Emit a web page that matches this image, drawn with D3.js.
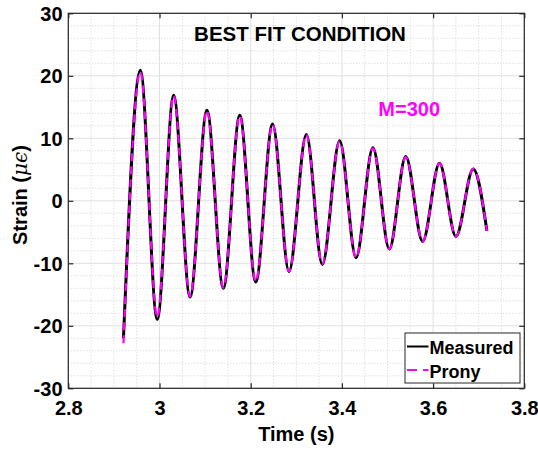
<!DOCTYPE html>
<html>
<head>
<meta charset="utf-8">
<script src="https://cdn.jsdelivr.net/npm/d3@7"></script>
<style>
    body { margin: 0; background: #fff; }
    text { font-family: "Liberation Sans", Arial, Helvetica, sans-serif; font-weight: bold; fill: #000; }
</style>
</head>
<body>
<script>
// extrema of the signal (time in s, strain in microstrain)
const time = [2.921, 2.958, 2.995, 3.031, 3.067, 3.104, 3.140, 3.176, 3.211, 3.248, 3.284, 3.322,
    3.357, 3.395, 3.431, 3.468, 3.504, 3.540, 3.577, 3.614, 3.650, 3.688, 3.718]
const measured = [-22.0, 20.9, -19.0, 16.9, -15.4, 14.5, -14.0, 13.7, -13.0, 12.3, -11.3, 10.6,
    -10.2, 9.6, -9.1, 8.5, -7.7, 7.1, -6.5, 6.0, -5.7, 5.1, -4.8]
const prony = [-22.8, 20.6, -18.6, 16.8, -15.3, 14.4, -13.9, 13.6, -12.9, 12.2, -11.3, 10.6,
    -10.1, 9.5, -9.1, 8.4, -7.7, 7.0, -6.5, 6.0, -5.7, 5.1, -4.8]

const xTicks = [2.8, 3.0, 3.2, 3.4, 3.6, 3.8]
const yTicks = [-30, -20, -10, 0, 10, 20, 30]
const seriesNames = ['Measured', 'Prony']

const W = 538, H = 450
const margin = { left: 68.3, top: 13.3, right: 13.7, bottom: 61.7 }
const iw = W - margin.left - margin.right, ih = H - margin.top - margin.bottom

const svg = d3.select('body').append('svg')
    .attr('width', W)
    .attr('height', H)

const g = svg.append('g').attr('transform', 'translate(' + margin.left + ',' + margin.top + ')')

const x = d3.scaleLinear().domain([2.8, 3.8]).range([0, iw])
const y = d3.scaleLinear().domain([-30, 30]).range([ih, 0])

// plain hyphen minus like matlab, not the unicode one d3 uses
const fmt = d => String(+d.toFixed(2))

// minor grid (dotted)
const xMinor = d3.range(2.8, 3.8001, 0.05).filter(v => !xTicks.some(t => Math.abs(t - v) < 1e-6))
const yMinor = d3.range(-30, 30.001, 2).filter(v => v % 10 !== 0)

g.selectAll('.xminor').data(xMinor).enter().append('line')
    .attr('x1', d => x(d)).attr('x2', d => x(d)).attr('y1', 0).attr('y2', ih)
    .attr('stroke', '#d2d2d2').attr('stroke-width', 1).attr('stroke-dasharray', '1,2')
g.selectAll('.yminor').data(yMinor).enter().append('line')
    .attr('y1', d => y(d)).attr('y2', d => y(d)).attr('x1', 0).attr('x2', iw)
    .attr('stroke', '#d2d2d2').attr('stroke-width', 1).attr('stroke-dasharray', '1,2')

// major grid
g.selectAll('.xmajor').data(xTicks).enter().append('line')
    .attr('x1', d => x(d)).attr('x2', d => x(d)).attr('y1', 0).attr('y2', ih)
    .attr('stroke', '#e0e0e0').attr('stroke-width', 1)
g.selectAll('.ymajor').data(yTicks).enter().append('line')
    .attr('y1', d => y(d)).attr('y2', d => y(d)).attr('x1', 0).attr('x2', iw)
    .attr('stroke', '#e0e0e0').attr('stroke-width', 1)

const line = vals => d3.line()
    .x((d, i) => x(time[i]))
    .y(d => y(d))
    .curve(d3.curveMonotoneX)(vals)

g.append('path').attr('d', line(measured))
    .attr('fill', 'none').attr('stroke', '#000').attr('stroke-width', 3)
g.append('path').attr('d', line(prony))
    .attr('fill', 'none').attr('stroke', '#ff00ff').attr('stroke-width', 2.2)
    .attr('stroke-dasharray', '8,5')

// box and inward ticks on all four sides
g.append('rect').attr('width', iw).attr('height', ih)
    .attr('fill', 'none').attr('stroke', '#262626').attr('stroke-width', 1.2)

const tl = 5
const axisStyle = sel => sel.call(s => s.select('.domain').remove())
    .call(s => s.selectAll('.tick line').attr('stroke', '#262626').attr('stroke-width', 1.2))

g.append('g').attr('transform', 'translate(0,' + ih + ')')
    .call(d3.axisBottom(x).tickValues(xTicks).tickSizeInner(-tl).tickSizeOuter(0).tickFormat(fmt))
    .call(axisStyle)
    .call(s => s.selectAll('.tick text').attr('font-size', 20).attr('font-family', null)
        .attr('dy', null).attr('y', 26.5))
g.append('g')
    .call(d3.axisTop(x).tickValues(xTicks).tickSizeInner(-tl).tickSizeOuter(0).tickFormat(''))
    .call(axisStyle)
g.append('g')
    .call(d3.axisLeft(y).tickValues(yTicks).tickSizeInner(-tl).tickSizeOuter(0).tickFormat(fmt))
    .call(axisStyle)
    .call(s => s.selectAll('.tick text').attr('font-size', 20).attr('font-family', null)
        .attr('dy', '0.35em').attr('x', -5.8))
g.append('g').attr('transform', 'translate(' + iw + ',0)')
    .call(d3.axisRight(y).tickValues(yTicks).tickSizeInner(-tl).tickSizeOuter(0).tickFormat(''))
    .call(axisStyle)

// labels
svg.append('text').attr('x', margin.left + iw / 2).attr('y', 441)
    .attr('text-anchor', 'middle').attr('font-size', 20).text('Time (s)')

const yl = svg.append('text').attr('transform', 'translate(27,195) rotate(-90)')
    .attr('text-anchor', 'middle').attr('font-size', 20)
yl.append('tspan').text('Strain (')
yl.append('tspan').attr('font-family', '"DejaVu Serif", serif').attr('font-style', 'italic')
    .attr('font-weight', 'normal').text('μϵ')
yl.append('tspan').text(')')

svg.append('text').attr('x', 300).attr('y', 40.5)
    .attr('text-anchor', 'middle').attr('font-size', 20.5).text('BEST FIT CONDITION')

svg.append('text').attr('x', 378.3).attr('y', 115.7)
    .attr('font-size', 20).style('fill', '#ff00ff').text('M=300')

// legend
const lg = svg.append('g').attr('transform', 'translate(405,333)')
lg.append('rect').attr('width', 115).attr('height', 50)
    .attr('fill', '#fff').attr('stroke', '#262626').attr('stroke-width', 1)
const rows = lg.selectAll('.row').data(seriesNames).enter().append('g')
    .attr('transform', (d, i) => 'translate(0,' + (13.5 + i * 23.5) + ')')
rows.append('line').attr('x1', 2).attr('x2', 23.5).attr('y1', 0).attr('y2', 0)
    .attr('stroke', (d, i) => i ? '#ff00ff' : '#000')
    .attr('stroke-width', (d, i) => i ? 2.2 : 2)
    .attr('stroke-dasharray', (d, i) => i ? '10,6' : null)
rows.append('text').attr('x', 24.5).attr('y', 7.5).attr('font-size', 18).text(d => d)
</script>
</body>
</html>
